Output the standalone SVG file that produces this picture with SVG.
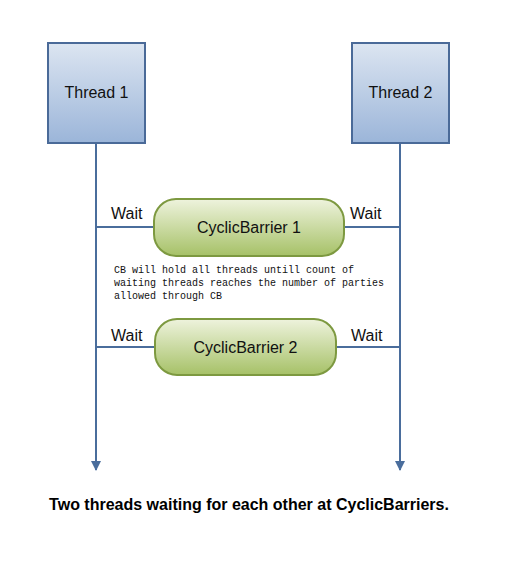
<svg xmlns="http://www.w3.org/2000/svg" width="508" height="568" viewBox="0 0 508 568">
<style>
.lbl{font-family:"Liberation Sans",Arial,sans-serif;font-size:16px;fill:#111}
.note{font-family:"Liberation Mono","DejaVu Sans Mono",monospace;font-size:10px;fill:#111}
.cap{font-family:"Liberation Sans",Arial,sans-serif;font-size:16px;font-weight:bold;fill:#000}
.thread{fill:url(#gBlue);stroke:#4a6a98;stroke-width:2}
.cb{fill:url(#gGreen);stroke:#7d9940;stroke-width:2}
.ln{stroke:#4a6d9c;stroke-width:2;fill:none}
</style>
<defs>
<linearGradient id="gBlue" x1="0" y1="0" x2="0" y2="1">
<stop offset="0" stop-color="#dce5f1"/>
<stop offset="1" stop-color="#9bb5d9"/>
</linearGradient>
<linearGradient id="gGreen" x1="0" y1="0" x2="0" y2="1">
<stop offset="0" stop-color="#eef3dd"/>
<stop offset="1" stop-color="#a6c167"/>
</linearGradient>
<marker id="arr" viewBox="0 0 10 10" refX="9" refY="5" markerWidth="5" markerHeight="5" orient="auto" markerUnits="strokeWidth">
<path d="M0,0 L10,5 L0,10 z" fill="#4a6d9c"/>
</marker>
</defs>
<rect width="508" height="568" fill="#fff"/>
<g id="connectors">
<line class="ln" x1="96" y1="143" x2="96" y2="470" marker-end="url(#arr)"/>
<line class="ln" x1="400" y1="143" x2="400" y2="470" marker-end="url(#arr)"/>
<line class="ln" x1="96" y1="227" x2="154" y2="227"/>
<line class="ln" x1="344" y1="227" x2="400" y2="227"/>
<line class="ln" x1="96" y1="347" x2="155" y2="347"/>
<line class="ln" x1="336" y1="347" x2="400" y2="347"/>
<text class="lbl" x="111" y="219">Wait</text>
<text class="lbl" x="350" y="219">Wait</text>
<text class="lbl" x="111" y="341">Wait</text>
<text class="lbl" x="351" y="341">Wait</text>
</g>
<g id="thread1">
<rect class="thread" x="48" y="43" width="97" height="100"/>
<text class="lbl" x="96.5" y="98" text-anchor="middle">Thread 1</text>
</g>
<g id="thread2">
<rect class="thread" x="352" y="43" width="97" height="100"/>
<text class="lbl" x="400.5" y="98" text-anchor="middle">Thread 2</text>
</g>
<g id="cb1">
<rect class="cb" x="154" y="199" width="190" height="57" rx="22" ry="22"/>
<text class="lbl" x="249" y="233" text-anchor="middle">CyclicBarrier 1</text>
</g>
<g id="note">
<text class="note" x="114" y="273">CB will hold all threads untill count of</text>
<text class="note" x="114" y="286">waiting threads reaches the number of parties</text>
<text class="note" x="114" y="299">allowed through CB</text>
</g>
<g id="cb2">
<rect class="cb" x="155" y="319" width="181" height="56" rx="22" ry="22"/>
<text class="lbl" x="245.5" y="353" text-anchor="middle">CyclicBarrier 2</text>
</g>
<g id="caption">
<text class="cap" x="249" y="510" text-anchor="middle">Two threads waiting for each other at CyclicBarriers.</text>
</g>
</svg>
